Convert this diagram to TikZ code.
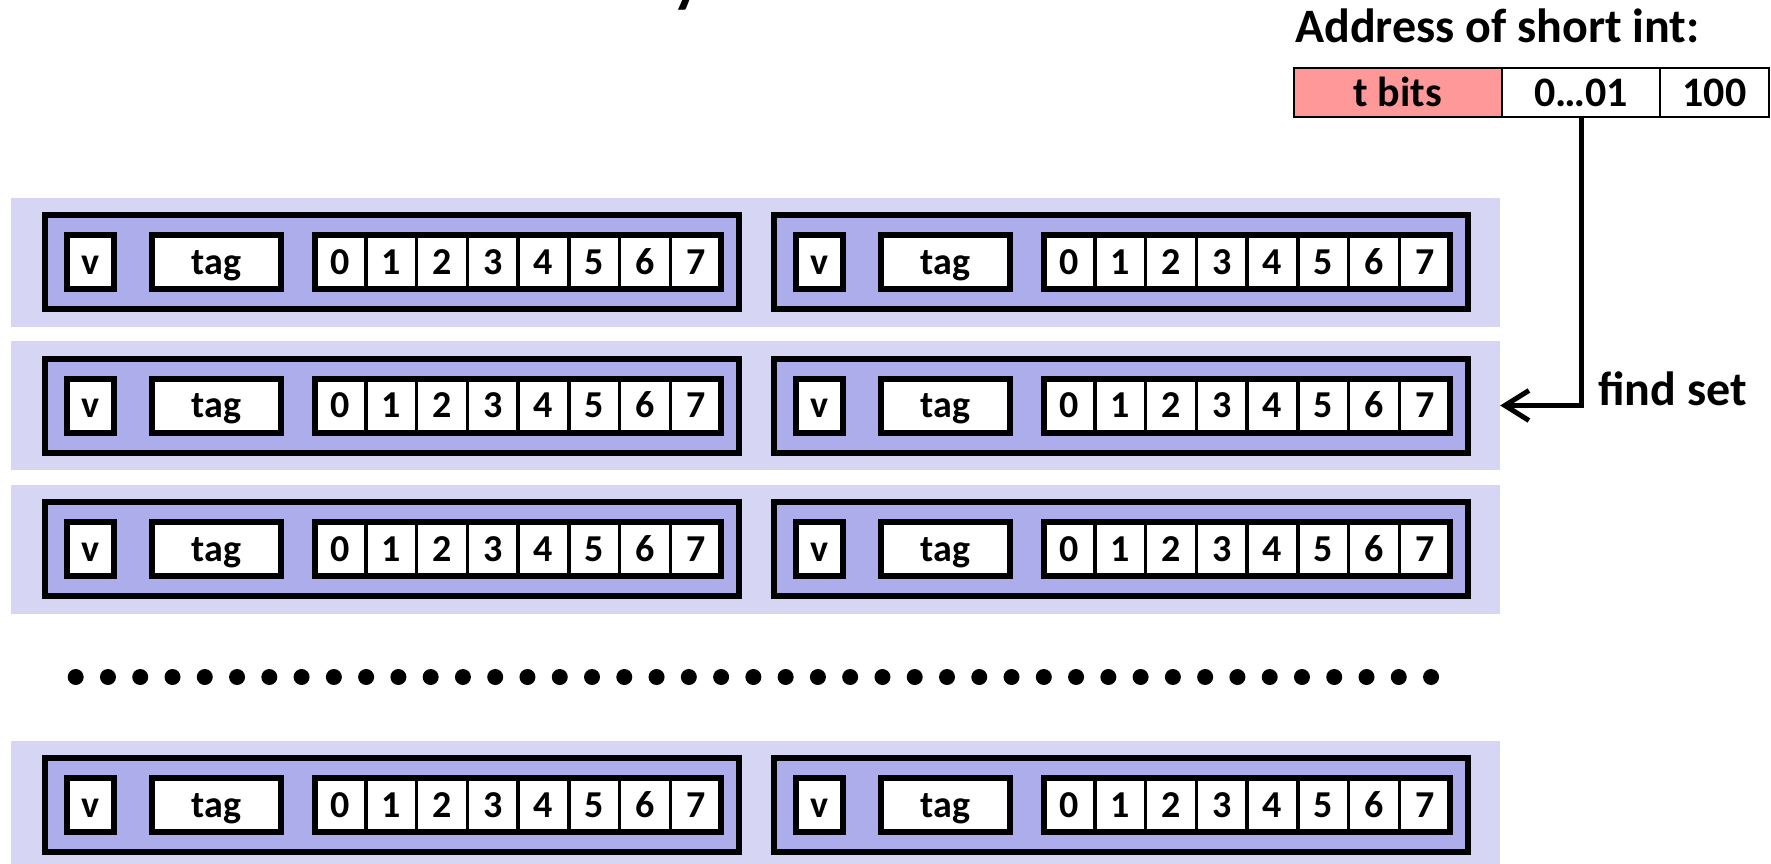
\documentclass[tikz,border=0pt]{standalone}
\usepackage{fontspec}
\setmainfont{Carlito}
\usetikzlibrary{arrows.meta}
\definecolor{bandc}{RGB}{214,214,244}
\definecolor{linec}{RGB}{173,173,235}
\definecolor{pinkc}{RGB}{255,153,153}
\tikzset{
  band/.style={fill=bandc, minimum width=1489pt, minimum height=129pt, inner sep=0pt},
  linebox/.style={draw, line width=6pt, fill=linec, minimum width=694pt, minimum height=94pt, inner sep=0pt},
  txt/.style={font=\fontsize{38}{40}\selectfont\bfseries, text height=24pt, text depth=0pt},
  fieldbox/.style={draw, line width=6pt, fill=white, minimum height=54pt, inner sep=0pt, txt},
  cellbox/.style={draw, line width=3.5pt, fill=white, minimum width=50.75pt, minimum height=54pt, inner sep=0pt, txt},
  bytesframe/.style={draw, line width=6pt, minimum width=406pt, minimum height=54pt, inner sep=0pt},
  addrcell/.style={draw, line width=2pt, minimum height=49pt, inner sep=0pt, font=\fontsize{42}{44}\selectfont\bfseries, text height=27pt, text depth=0pt},
  label/.style={font=\fontsize{48}{50}\selectfont\bfseries, inner sep=0pt, anchor=base west},
  conn/.style={line width=5pt, -{Straight Barb[length=24pt, width=30pt, line width=5pt]}}
}
\begin{document}
\begin{tikzpicture}[x=1pt,y=-1pt]
\useasboundingbox (0,0) rectangle (1771,863);
% cut-off title fragment
\node[font=\fontsize{62}{62}\selectfont\bfseries, inner sep=0pt, anchor=base west] (frag) at (672,0) {y};
% sets
\foreach \i/\yc in {1/262,2/405.5,3/549,4/805}{
  \node[band] (band\i) at (755.5,\yc) {};
  \foreach \s/\dx in {L/0,R/729}{
    \node[linebox] (\s\i) at ({392+\dx},\yc) {};
    \node[fieldbox, minimum width=47pt] (\s\i v) at ({90.5+\dx},\yc) {v};
    \node[fieldbox, minimum width=129pt] (\s\i tag) at ({216.5+\dx},\yc) {tag};
    \foreach \k in {0,...,7}{
      \node[cellbox] (\s\i c\k) at ({340.375+50.75*\k+\dx},\yc) {\k};
    }
    \node[bytesframe] (\s\i bytes) at ({518+\dx},\yc) {};
  }
}
% dots
\foreach \k in {0,...,42}{
  \fill ({75.7+32.27*\k},677) circle (8pt);
}
% address
\node[label] (title) at (1295,42) {Address of short int:};
\node[addrcell, fill=pinkc, minimum width=208pt] (tbits) at (1398,92.5) {t bits};
\node[addrcell, fill=white, minimum width=158pt] (mid) at (1581,92.5) {0…01};
\node[addrcell, fill=white, minimum width=109pt] (off) at (1714.5,92.5) {100};
\draw[conn] (mid.south) |- (band2.east);
\node[label] (find) at (1598,405) {find set};
\end{tikzpicture}
\end{document}
